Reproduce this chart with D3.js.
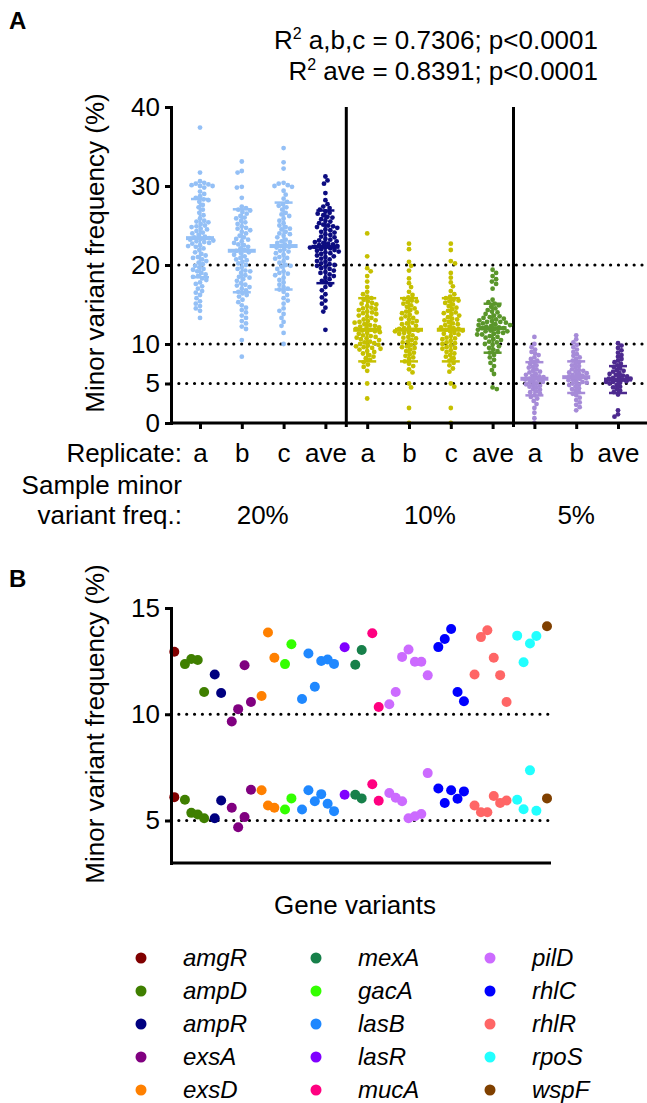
<!DOCTYPE html>
<html lang="en">
<head>
<meta charset="UTF-8">
<title>Minor variant frequency</title>
<script src="https://d3js.org/d3.v7.min.js"></script>
<style>
  body { margin: 0; background: #fff; }
  svg { font-family: "Liberation Sans", Arial, sans-serif; }
</style>
</head>
<body>
<script>
// ---------- panel A data ----------
var replicateLabels = ["a", "b", "c", "ave", "a", "b", "c", "ave", "a", "b", "ave"];
var sampleLabels = ["20%", "10%", "5%"];
var colColors = ["#94c0f6", "#94c0f6", "#94c0f6", "#0c0c80",
                 "#c6c000", "#c6c000", "#c6c000", "#5a962a",
                 "#a68bd8", "#a68bd8", "#4d2a8f"];

var rep20a = [37.4, 31.7, 30.6, 30.4, 30.3, 30.2, 30.1, 30.0, 30.0, 29.8, 29.3, 29.0, 28.7, 28.5, 28.3, 28.2, 28.0, 27.6, 27.3, 27.0,
  26.6, 26.3, 25.9, 25.6, 25.5, 25.4, 25.2, 25.0, 24.9, 24.8, 24.6, 24.5, 24.3, 24.1, 24.0, 23.8, 23.6, 23.5, 23.4, 23.3, 23.2, 23.1,
  23.0, 22.9, 22.8, 22.7, 22.5, 22.4, 22.3, 22.1, 21.9, 21.6, 21.4, 21.2, 21.0, 20.9, 20.7, 20.5, 20.3, 20.1, 19.9, 19.7, 19.5, 19.4,
  19.2, 19.0, 18.8, 18.6, 18.5, 18.3, 18.1, 17.8, 17.6, 17.3, 17.0, 16.7, 16.5, 16.2, 15.8, 15.4, 15.1, 14.8, 14.5, 14.2, 13.3];
var rep20b = [33.1, 31.9, 31.7, 29.9, 29.8, 28.5, 27.4, 27.2, 27.0, 26.9, 26.7, 26.5, 26.2, 25.9, 25.6, 25.4, 25.2, 24.9, 24.6, 24.4,
  24.2, 24.0, 23.7, 23.5, 23.2, 23.0, 22.8, 22.5, 22.3, 22.1, 21.9, 21.8, 21.6, 21.3, 21.1, 20.9, 20.6, 20.4, 20.2, 20.0, 19.7, 19.5,
  19.2, 19.0, 18.7, 18.5, 18.2, 18.0, 17.7, 17.5, 17.2, 17.0, 16.8, 16.6, 16.4, 16.0, 15.6, 15.3, 14.9, 14.6, 14.3, 14.0, 13.6, 13.3,
  12.9, 12.6, 12.2, 11.9, 10.5, 8.4, 26.0, 24.7, 23.3, 22.6, 21.5, 20.7, 19.3, 18.4, 17.4, 16.2];
var rep20c = [34.8, 33.0, 32.2, 30.4, 30.3, 30.1, 30.0, 29.9, 29.4, 28.9, 28.4, 28.0, 27.7, 27.3, 27.0, 26.6, 26.2, 25.9, 25.6, 25.3,
  25.0, 24.8, 24.5, 24.2, 24.0, 23.7, 23.5, 23.2, 23.0, 22.8, 22.6, 22.4, 22.2, 22.0, 21.8, 21.5, 21.3, 21.0, 20.8, 20.5, 20.3, 20.0,
  19.8, 19.5, 19.2, 19.0, 18.7, 18.4, 18.1, 17.8, 17.5, 17.2, 16.9, 16.6, 16.2, 15.8, 15.5, 15.1, 14.5, 14.2, 13.8, 13.3, 12.8, 12.3,
  11.4, 10.0, 27.5, 26.4, 24.6, 23.9, 22.9, 22.3, 21.7, 20.9, 19.9, 18.9, 17.0];
var rep20ave = [31.2, 30.7, 30.3, 29.1, 28.2, 27.7, 27.4, 27.2, 27.0, 26.8, 26.6, 26.5, 26.3, 26.1, 26.0, 25.8, 25.6, 25.5, 25.3, 25.1,
  25.0, 24.8, 24.7, 24.5, 24.4, 24.2, 24.1, 23.9, 23.8, 23.6, 23.5, 23.3, 23.2, 23.1, 22.9, 22.8, 22.7, 22.5, 22.4, 22.3, 22.2, 22.1,
  22.0, 21.9, 21.8, 21.6, 21.5, 21.4, 21.2, 21.1, 21.0, 20.8, 20.7, 20.5, 20.4, 20.2, 20.1, 19.9, 19.8, 19.6, 19.5, 19.3, 19.1, 19.0,
  18.8, 18.6, 18.4, 18.2, 18.0, 17.8, 17.5, 17.2, 16.8, 16.3, 15.9, 15.5, 15.1, 14.6, 14.1, 11.8, 22.6, 22.2, 21.7, 23.0, 20.0, 24.9];
var rep10a = [24.0, 21.1, 19.6, 19.2, 18.6, 17.9, 17.2, 16.6, 16.3, 16.0, 15.8, 15.6, 15.4, 15.2, 15.0, 14.8, 14.6, 14.5, 14.3, 14.1,
  14.0, 13.8, 13.6, 13.5, 13.3, 13.1, 13.0, 12.8, 12.7, 12.5, 12.4, 12.3, 12.1, 12.0, 11.9, 11.8, 11.7, 11.5, 11.4, 11.3, 11.1, 11.0,
  10.9, 10.7, 10.6, 10.5, 10.3, 10.2, 10.1, 9.9, 9.8, 9.7, 9.5, 9.4, 9.3, 9.1, 9.0, 8.8, 8.6, 8.4, 8.2, 8.0, 7.7, 7.4, 7.1, 6.6, 5.0,
  3.1, 13.9, 12.9, 12.2, 11.6, 10.8, 10.0, 9.6, 15.1, 14.4];
var rep10b = [22.7, 22.0, 20.4, 19.9, 19.3, 18.3, 17.7, 17.2, 16.6, 16.2, 15.9, 15.7, 15.5, 15.3, 15.1, 14.9, 14.7, 14.5, 14.3, 14.1,
  13.9, 13.7, 13.5, 13.3, 13.1, 12.9, 12.7, 12.5, 12.3, 12.1, 11.9, 11.8, 11.7, 11.5, 11.3, 11.1, 10.9, 10.7, 10.5, 10.3, 10.1, 9.9,
  9.7, 9.5, 9.3, 9.1, 8.9, 8.7, 8.5, 8.3, 8.1, 7.8, 7.5, 7.2, 6.8, 6.4, 5.0, 4.5, 1.9, 0.0, 14.0, 13.2, 12.6, 12.0, 11.4, 10.8,
  10.2, 9.6, 15.4, 11.6];
var rep10c = [22.7, 21.9, 20.5, 20.2, 19.0, 18.4, 17.8, 17.3, 16.7, 16.3, 16.0, 15.8, 15.6, 15.4, 15.2, 15.0, 14.8, 14.6, 14.4, 14.2,
  14.0, 13.8, 13.6, 13.4, 13.2, 13.0, 12.8, 12.6, 12.4, 12.2, 12.0, 11.9, 11.8, 11.6, 11.4, 11.2, 11.0, 10.8, 10.6, 10.4, 10.2, 10.0,
  9.8, 9.6, 9.4, 9.2, 9.0, 8.8, 8.6, 8.4, 8.2, 7.9, 7.6, 7.3, 6.9, 6.5, 5.0, 4.6, 1.9, 0.0, 13.9, 13.1, 12.5, 11.7, 11.3, 10.7,
  10.1, 9.5, 15.5, 12.1];
var rep10ave = [19.4, 19.0, 18.6, 18.2, 17.9, 17.6, 17.0, 15.6, 15.3, 15.1, 14.9, 14.7, 14.5, 14.3, 14.1, 14.0, 13.8, 13.6, 13.5, 13.4,
  13.2, 13.1, 13.0, 12.9, 12.8, 12.7, 12.6, 12.5, 12.4, 12.3, 12.2, 12.1, 12.0, 11.9, 11.8, 11.7, 11.6, 11.5, 11.4, 11.3, 11.2, 11.0,
  10.9, 10.8, 10.6, 10.5, 10.3, 10.2, 10.0, 9.9, 9.7, 9.5, 9.3, 9.1, 8.9, 8.6, 8.3, 8.0, 7.6, 7.2, 6.7, 6.2, 4.5, 4.3, 12.4, 12.0,
  11.6, 12.8, 11.2, 13.3];
var rep5a = [10.9, 10.0, 9.6, 9.3, 9.0, 8.8, 8.6, 8.3, 8.1, 7.9, 7.7, 7.5, 7.3, 7.1, 7.0, 6.8, 6.6, 6.4, 6.2, 6.1, 6.0,
  5.8, 5.7, 5.6, 5.5, 5.3, 5.2, 5.1, 5.0, 4.9, 4.8, 4.6, 4.5, 4.3, 4.2, 4.0, 3.9, 3.7, 3.5, 3.3, 3.1, 2.8, 2.4, 1.9, 1.3, 0.6, 0.0,
  6.5, 5.9, 5.4, 4.7];
var rep5b = [11.1, 10.6, 10.2, 9.9, 9.6, 9.3, 9.0, 8.7, 8.5, 8.3, 8.1, 7.9, 7.7, 7.5, 7.3, 7.2, 7.0, 6.8, 6.6, 6.5, 6.4,
  6.2, 6.1, 6.0, 5.9, 5.8, 5.7, 5.6, 5.5, 5.4, 5.3, 5.2, 5.0, 4.9, 4.8, 4.6, 4.4, 4.3, 4.1, 3.9, 3.7, 3.5, 3.2, 2.9, 2.6,
  2.3, 2.0, 1.6, 6.7, 6.3, 5.1];
var rep5ave = [10.1, 9.8, 9.5, 9.2, 8.9, 8.6, 8.4, 8.1, 7.9, 7.7, 7.5, 7.3, 7.1, 6.9, 6.7, 6.5, 6.3, 6.2, 6.0, 5.9, 5.8,
  5.7, 5.6, 5.5, 5.4, 5.3, 5.2, 5.1, 5.0, 4.8, 4.6, 4.5, 4.3, 4.1, 3.9, 3.6, 1.6, 1.1, 0.8, 6.6, 6.1, 5.6, 5.2];

var colValues = [rep20a, rep20b, rep20c, rep20ave, rep10a, rep10b, rep10c, rep10ave, rep5a, rep5b, rep5ave];
var colMeans = [23.4, 21.8, 22.4, 22.3, 11.8, 11.8, 11.8, 12.0, 5.6, 5.8, 5.5];
var colSDs = [4.95, 5.25, 5.5, 4.6, 4.0, 4.0, 4.0, 3.1, 2.1, 2.0, 1.7];
var yTicksA = [0, 5, 10, 20, 30, 40];
var refLinesA = [5, 10, 20];

// ---------- panel B data ----------
var genes = ["amgR", "ampD", "ampR", "exsA", "exsD", "gacA", "lasB", "lasR", "mexA", "mucA", "pilD", "rhlC", "rhlR", "rpoS", "wspF"];
var geneColors = {
  amgR: "#800000", ampD: "#3f7f00", ampR: "#000080", exsA: "#800080", exsD: "#ff8000",
  mexA: "#17804a", gacA: "#33ff00", lasB: "#1f88ff", lasR: "#8000ff", mucA: "#ff0080",
  pilD: "#cc6bff", rhlC: "#0000ff", rhlR: "#ff6666", rpoS: "#22ffff", wspF: "#804000"
};
var hiValues = [
  [12.94], [12.36, 12.6, 12.55, 11.05], [11.87, 11.0], [9.66, 10.24, 12.31, 10.58], [10.86, 13.85, 12.66],
  [12.36, 13.29], [10.72, 12.86, 11.29, 12.51, 12.58, 12.37], [13.15], [12.33, 13.02], [13.81, 10.34],
  [10.47, 11.05, 12.7, 13.05, 12.47, 12.47, 11.83], [13.16, 13.54, 14.01, 11.05, 10.61],
  [11.87, 13.63, 13.95, 12.66, 11.84, 10.58], [13.7, 12.45, 13.33, 13.68], [14.14]
];
var loValues = [
  [6.10], [5.98, 5.36, 5.28, 5.11], [5.11, 5.94], [5.6, 4.68, 5.16, 6.45], [6.42, 5.71, 5.6],
  [5.52, 6.04], [5.52, 6.42, 5.91, 6.24, 5.79, 5.44], [6.21], [6.21, 6.04], [6.71, 5.93],
  [6.29, 6.07, 5.91, 5.11, 5.2, 5.31, 7.23], [6.51, 5.82, 6.42, 6.02, 6.37],
  [5.71, 5.39, 5.39, 6.15, 5.82, 5.94], [5.98, 5.53, 7.36, 5.46], [6.04]
];
var legendOrder = [["amgR", "ampD", "ampR", "exsA", "exsD"],
                   ["mexA", "gacA", "lasB", "lasR", "mucA"],
                   ["pilD", "rhlC", "rhlR", "rpoS", "wspF"]];
var yTicksB = [5, 10, 15];
var refLinesB = [5, 10];

// ---------- svg ----------
var W = 647, H = 1103;
var FS = 26;
var svg = d3.select("body").append("svg").attr("width", W).attr("height", H);

function dotted(g, x1, x2, y) {
  g.append("line").attr("x1", x1).attr("x2", x2).attr("y1", y).attr("y2", y)
    .attr("stroke", "#000").attr("stroke-width", 3.2)
    .attr("stroke-linecap", "round").attr("stroke-dasharray", "0 7.85");
}

// simple beeswarm: each point goes to the free spot nearest the column centre
function swarm(vals, cx, yScale, r, tight) {
  var pts = vals.map(function(v) { return {v: v, y: yScale(v)}; })
    .sort(function(a, b) { return a.y - b.y; });
  var placed = [];
  var d = 2 * r * tight;
  pts.forEach(function(p, i) {
    var sign = i % 2 ? 1 : -1;
    for (var k = 0; k < 80; k++) {
      var offs = k === 0 ? [0] : [sign * k * 0.7, -sign * k * 0.7];
      var found = null;
      for (var j = 0; j < offs.length; j++) {
        var o = offs[j];
        var ok = placed.every(function(q) { return (q.x - o) * (q.x - o) + (q.y - p.y) * (q.y - p.y) >= d * d; });
        if (ok) { found = o; break; }
      }
      if (found !== null) { p.x = cx + found; placed.push({x: found, y: p.y}); break; }
    }
  });
  return pts;
}

// ---------- panel A ----------
var xA = d3.scalePoint().domain(d3.range(replicateLabels.length)).range([200, 618]);
var yA = d3.scaleLinear().domain([0, 40]).range([423, 107]);
var gA = svg.append("g");

refLinesA.forEach(function(v) { dotted(gA, 171, 647, yA(v)); });

// group separators
[3, 7].forEach(function(i) {
  var sx = (xA(i) + xA(i + 1)) / 2;
  gA.append("line").attr("x1", sx).attr("x2", sx).attr("y1", yA(40)).attr("y2", 427)
    .attr("stroke", "#000").attr("stroke-width", 3);
});

colValues.forEach(function(vals, i) {
  var pts = swarm(vals, xA(i), yA, 2.4, i >= 8 ? 0.8 : 0.9);
  gA.append("g").selectAll("circle").data(pts).join("circle")
    .attr("cx", function(d) { return d.x; })
    .attr("cy", function(d) { return d.y; })
    .attr("r", 2.4)
    .attr("fill", colColors[i]);
  var m = colMeans[i], s = colSDs[i], cx = xA(i);
  var eb = gA.append("g").attr("stroke", colColors[i]);
  eb.append("line").attr("x1", cx).attr("x2", cx).attr("y1", yA(m + s)).attr("y2", yA(m - s)).attr("stroke-width", 2.5);
  eb.append("line").attr("x1", cx - 14).attr("x2", cx + 14).attr("y1", yA(m)).attr("y2", yA(m)).attr("stroke-width", 4);
  [m + s, m - s].forEach(function(v) {
    eb.append("line").attr("x1", cx - 9).attr("x2", cx + 9).attr("y1", yA(v)).attr("y2", yA(v)).attr("stroke-width", 2.5);
  });
});

var yAxisA = gA.append("g").attr("transform", "translate(171,0)")
  .call(d3.axisLeft(yA).tickValues(yTicksA).tickSize(6).tickSizeOuter(0).tickPadding(5));
gA.append("line").attr("x1", 171).attr("x2", 647).attr("y1", 423).attr("y2", 423)
  .attr("stroke", "#000").attr("stroke-width", 3);
var xAxisA = gA.append("g").attr("transform", "translate(0,423)")
  .call(d3.axisBottom(xA).tickSize(6).tickPadding(15).tickFormat(function(i) { return replicateLabels[i]; }));
xAxisA.select(".domain").remove();

[yAxisA, xAxisA].forEach(function(ax) {
  ax.selectAll("path, line").attr("stroke", "#000").attr("stroke-width", 3);
  ax.selectAll("text").attr("font-size", FS).attr("fill", "#000")
    .attr("font-family", "Liberation Sans, Arial, sans-serif");
});
yAxisA.select(".domain").attr("stroke-linecap", "square");

gA.append("text").attr("transform", "translate(104,253) rotate(-90)")
  .attr("text-anchor", "middle").attr("font-size", FS).text("Minor variant frequency (%)");

gA.append("text").attr("x", 182).attr("y", 462).attr("text-anchor", "end").attr("font-size", FS).text("Replicate:");
gA.append("text").attr("x", 182).attr("y", 494).attr("text-anchor", "end").attr("font-size", FS).text("Sample minor");
gA.append("text").attr("x", 182).attr("y", 524).attr("text-anchor", "end").attr("font-size", FS).text("variant freq.:");
[[0, 3], [4, 7], [8, 10]].forEach(function(r, i) {
  gA.append("text").attr("x", (xA(r[0]) + xA(r[1])) / 2).attr("y", 524)
    .attr("text-anchor", "middle").attr("font-size", FS).text(sampleLabels[i]);
});

var r2a = gA.append("text").attr("x", 598).attr("y", 49).attr("text-anchor", "end").attr("font-size", FS);
r2a.append("tspan").text("R");
r2a.append("tspan").attr("dy", -10).attr("font-size", 16).text("2");
r2a.append("tspan").attr("dy", 10).text(" a,b,c = 0.7306; p<0.0001");
var r2b = gA.append("text").attr("x", 598).attr("y", 80).attr("text-anchor", "end").attr("font-size", FS);
r2b.append("tspan").text("R");
r2b.append("tspan").attr("dy", -10).attr("font-size", 16).text("2");
r2b.append("tspan").attr("dy", 10).text(" ave = 0.8391; p<0.0001");

svg.append("text").attr("x", 9).attr("y", 29).attr("font-size", 24).attr("font-weight", "bold").text("A");
svg.append("text").attr("x", 9).attr("y", 587).attr("font-size", 24).attr("font-weight", "bold").text("B");

// ---------- panel B ----------
var gapUnits = 0.66;
var pointsB = [];
var slot = 0;
genes.forEach(function(g, gi) {
  hiValues[gi].forEach(function(v, k) {
    var s = slot + gi * gapUnits;
    pointsB.push({gene: g, slot: s, v: v});
    pointsB.push({gene: g, slot: s, v: loValues[gi][k]});
    slot++;
  });
});
var xB = d3.scaleLinear().domain([0, d3.max(pointsB, function(d) { return d.slot; })]).range([174.3, 547]);
var yB = d3.scaleLinear().domain([3, 15]).range([863, 608]);
var gB = svg.append("g");

refLinesB.forEach(function(v) { dotted(gB, 171, 551, yB(v)); });

gB.selectAll("circle").data(pointsB).join("circle")
  .attr("cx", function(d) { return xB(d.slot); })
  .attr("cy", function(d) { return yB(d.v); })
  .attr("r", 5)
  .attr("fill", function(d) { return geneColors[d.gene]; });

var yAxisB = gB.append("g").attr("transform", "translate(171,0)")
  .call(d3.axisLeft(yB).tickValues(yTicksB).tickSize(6).tickSizeOuter(0).tickPadding(5));
yAxisB.selectAll("path, line").attr("stroke", "#000").attr("stroke-width", 3);
yAxisB.select(".domain").attr("stroke-linecap", "square");
yAxisB.selectAll("text").attr("font-size", FS).attr("fill", "#000")
  .attr("font-family", "Liberation Sans, Arial, sans-serif");
gB.append("line").attr("x1", 171).attr("x2", 551).attr("y1", 863).attr("y2", 863)
  .attr("stroke", "#000").attr("stroke-width", 3);

gB.append("text").attr("transform", "translate(104,724) rotate(-90)")
  .attr("text-anchor", "middle").attr("font-size", FS).text("Minor variant frequency (%)");
gB.append("text").attr("x", 355).attr("y", 914).attr("text-anchor", "middle").attr("font-size", FS).text("Gene variants");

// legend
var legX = [141, 316, 490];
legendOrder.forEach(function(colGenes, c) {
  colGenes.forEach(function(g, r) {
    var ly = 958 + r * 33;
    gB.append("circle").attr("cx", legX[c]).attr("cy", ly).attr("r", 5.5).attr("fill", geneColors[g]);
    gB.append("text").attr("x", legX[c] + 42).attr("y", ly + 8).attr("font-size", 24)
      .attr("font-style", "italic").text(g);
  });
});
</script>
</body>
</html>
